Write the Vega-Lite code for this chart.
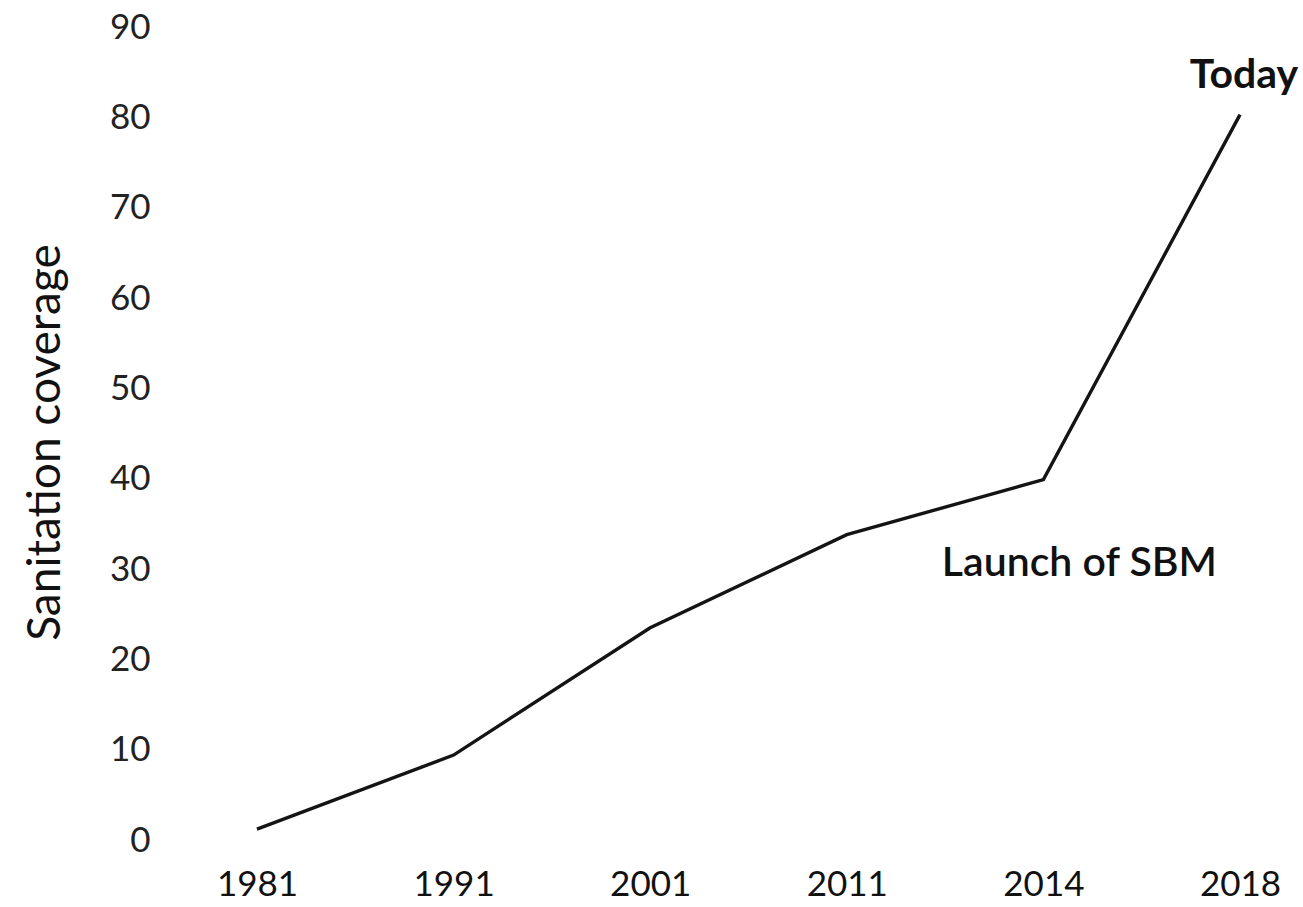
{
  "$schema": "https://vega.github.io/schema/vega-lite/v6.json",
  "autosize": "none",
  "width": 1101,
  "height": 813,
  "padding": {"left": 198, "top": 27, "right": 4, "bottom": 67},
  "background": "#ffffff",
  "config": {
    "view": {"stroke": null},
    "font": "Lato",
    "axis": {"grid": false, "domain": false, "ticks": false}
  },
  "data": {
    "values": [
      {"year": "1981", "coverage": 1.2},
      {"year": "1991", "coverage": 9.4},
      {"year": "2001", "coverage": 23.5},
      {"year": "2011", "coverage": 33.8},
      {"year": "2014", "coverage": 39.9},
      {"year": "2018", "coverage": 80.3}
    ]
  },
  "layer": [
    {
      "mark": {"type": "line", "color": "#141414", "strokeWidth": 3.4},
      "encoding": {
        "x": {
          "field": "year",
          "type": "ordinal",
          "scale": {"type": "point", "padding": 0.3},
          "sort": null,
          "axis": {
            "title": null,
            "labelAngle": 0,
            "labelFontSize": 35,
            "labelColor": "#111111",
            "labelPadding": 27,
            "labelFont": "Lato"
          }
        },
        "y": {
          "field": "coverage",
          "type": "quantitative",
          "scale": {"domain": [0, 90], "nice": false},
          "axis": {
            "title": "Sanitation coverage",
            "values": [0, 10, 20, 30, 40, 50, 60, 70, 80, 90],
            "labelFontSize": 35,
            "labelColor": "#222222",
            "labelPadding": 48,
            "labelFont": "Lato",
            "titleFont": "Lato",
            "titleFontSize": 46,
            "titleFontWeight": "normal",
            "titleColor": "#111111",
            "titleAngle": -90,
            "titleX": -153,
            "titleY": 415,
            "titleBaseline": "middle",
            "titleAlign": "center"
          }
        }
      }
    },
    {
      "data": {
        "values": [
          {"year": "2018", "coverage": 84.6, "label": "Today"}
        ]
      },
      "mark": {"type": "text", "fontSize": 41, "fontWeight": "bold", "color": "#111111", "align": "center", "baseline": "middle", "dx": 4, "font": "Lato"},
      "encoding": {
        "x": {"field": "year", "type": "ordinal", "sort": null},
        "y": {"field": "coverage", "type": "quantitative"},
        "text": {"field": "label"}
      }
    },
    {
      "data": {
        "values": [
          {"year": "2014", "coverage": 30.5, "label": "Launch of SBM"}
        ]
      },
      "mark": {"type": "text", "fontSize": 41, "fontWeight": 600, "color": "#111111", "align": "center", "baseline": "middle", "dx": 36, "font": "Lato"},
      "encoding": {
        "x": {"field": "year", "type": "ordinal", "sort": null},
        "y": {"field": "coverage", "type": "quantitative"},
        "text": {"field": "label"}
      }
    }
  ]
}
